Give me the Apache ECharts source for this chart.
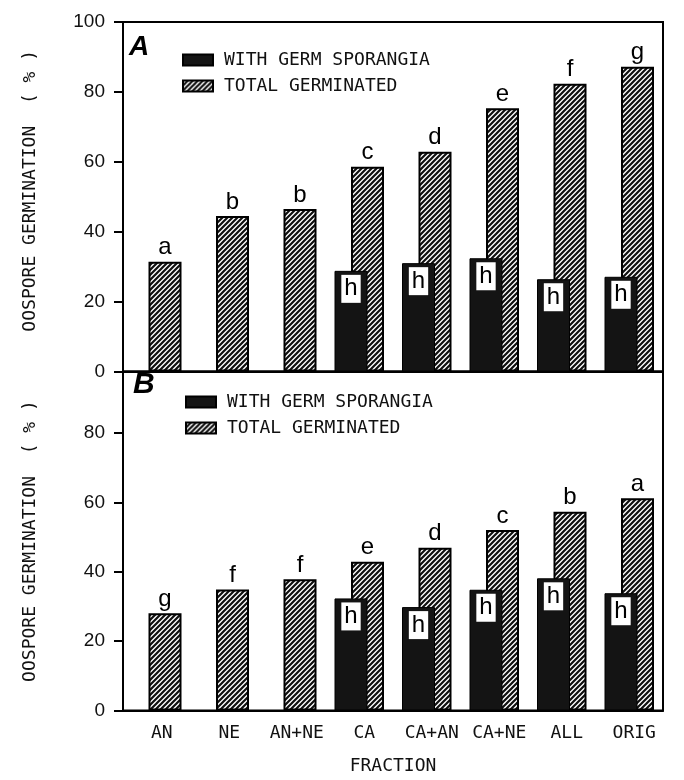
<!DOCTYPE html>
<html>
<head>
<meta charset="utf-8">
<script src="https://cdn.jsdelivr.net/npm/echarts@6/dist/echarts.min.js"></script>
<style>
  html, body { margin: 0; padding: 0; background: #fff; }
  #chart { width: 684px; height: 780px; }
</style>
</head>
<body>
<div id="chart"></div>
<script>
// Fractions tested and oospore germination (%) for the two experiments
const fractions = ['AN', 'NE', 'AN+NE', 'CA', 'CA+AN', 'CA+NE', 'ALL', 'ORIG'];

// Panel A
const sporangiaA = [null, null, null, 28.8, 31.0, 32.4, 26.4, 27.1];
const totalA     = [31.4, 44.5, 46.5, 58.6, 62.9, 75.3, 82.3, 87.2];
const lettersA   = ['a', 'b', 'b', 'c', 'd', 'e', 'f', 'g'];

// Panel B
const sporangiaB = [null, null, null, 32.3, 29.8, 34.8, 38.1, 33.8];
const totalB     = [28.0, 34.9, 37.8, 42.9, 46.9, 52.0, 57.3, 61.2];
const lettersB   = ['g', 'f', 'f', 'e', 'd', 'c', 'b', 'a'];

const sporangiaLetter = 'h';
const seriesNames = ['WITH GERM SPORANGIA', 'TOTAL GERMINATED'];
const axisTitleY = 'OOSPORE GERMINATION  ( % )';
const axisTitleX = 'FRACTION';

// Diagonal hatching tile for the "total germinated" bars
function hatchPattern() {
  const s = 5;
  const c = document.createElement('canvas');
  c.width = s; c.height = s;
  const g = c.getContext('2d');
  g.fillStyle = '#ffffff';
  g.fillRect(0, 0, s, s);
  g.strokeStyle = '#101010';
  g.lineWidth = 2.2;
  g.beginPath();
  g.moveTo(-1, s + 1); g.lineTo(s + 1, -1);
  g.moveTo(-1, 1); g.lineTo(1, -1);
  g.moveTo(s - 1, s + 1); g.lineTo(s + 1, s - 1);
  g.stroke();
  return { image: c, repeat: 'repeat' };
}
const hatch = hatchPattern();

const MONO = 'DejaVu Sans Mono';
const SANS = 'Liberation Sans';
const INK = '#111';

function yAxisFor(gridIndex, max, nameShift) {
  return {
    type: 'value', gridIndex, min: 0, max, interval: 20,
    axisLine: { show: true, lineStyle: { color: '#000', width: 2 } },
    axisTick: { show: true, length: 9, lineStyle: { color: '#000', width: 2 } },
    axisLabel: {
      margin: 18, fontSize: 19, fontFamily: SANS, color: INK,
      formatter: v => (v % 20 === 0 ? String(v) : '')
    },
    splitLine: { show: false },
    name: axisTitleY, nameLocation: 'middle', nameGap: 84,
    nameTextStyle: { fontFamily: MONO, fontSize: 18, color: INK, padding: [0, 0, 0, nameShift] }
  };
}

function xAxisFor(gridIndex, withLabels) {
  return {
    type: 'category', gridIndex, data: fractions,
    axisLine: { show: true, lineStyle: { color: '#000', width: 2 } },
    axisTick: { show: false },
    axisLabel: {
      show: withLabels, interval: 0, margin: 14, fontSize: 18, fontFamily: MONO, color: INK,
      padding: [0, 0, 0, 10]
    },
    name: withLabels ? axisTitleX : '', nameLocation: 'middle', nameGap: 47,
    nameTextStyle: { fontFamily: MONO, fontSize: 18, color: INK }
  };
}

function seriesFor(idx, sporangia, total, letters) {
  return [
    {
      name: seriesNames[0], type: 'bar', xAxisIndex: idx, yAxisIndex: idx,
      data: sporangia, barWidth: 33, barGap: '-50%', z: 3,
      itemStyle: { color: '#141414', borderColor: '#000', borderWidth: 1 },
      label: {
        show: true, position: 'insideTop', distance: 4,
        formatter: sporangiaLetter,
        backgroundColor: '#fff', padding: [2, 3],
        fontFamily: SANS, fontSize: 24, lineHeight: 24, color: '#000'
      }
    },
    {
      name: seriesNames[1], type: 'bar', xAxisIndex: idx, yAxisIndex: idx,
      data: total, barWidth: 33, barGap: '-50%', z: 2,
      itemStyle: { color: hatch, borderColor: '#000', borderWidth: 2 },
      label: {
        show: true, position: 'top', distance: 2,
        formatter: p => letters[p.dataIndex],
        fontFamily: SANS, fontSize: 24, color: '#000'
      }
    }
  ];
}

function legendFor(left, top) {
  return {
    left, top, orient: 'vertical', icon: 'rect', padding: 0,
    itemWidth: 30, itemHeight: 11, itemGap: 8,
    selectedMode: false, data: seriesNames,
    textStyle: { fontFamily: MONO, fontSize: 18, color: INK, padding: [0, 0, 0, 6] }
  };
}

const chart = echarts.init(document.getElementById('chart'), null, { renderer: 'canvas' });
chart.setOption({
  backgroundColor: '#fff',
  animation: false,
  grid: [
    { left: 123, right: 21, top: 22, height: 349.5, show: true, borderColor: '#000', borderWidth: 2, containLabel: false },
    { left: 123, right: 21, top: 371.5, height: 339, show: true, borderColor: '#000', borderWidth: 2, containLabel: false }
  ],
  xAxis: [xAxisFor(0, false), xAxisFor(1, true)],
  yAxis: [yAxisFor(0, 100, 12), yAxisFor(1, 97.7, 0)],
  legend: [legendFor(182, 51), legendFor(185, 393)],
  series: [
    ...seriesFor(0, sporangiaA, totalA, lettersA),
    ...seriesFor(1, sporangiaB, totalB, lettersB)
  ],
  graphic: [
    { type: 'text', left: 129, top: 33, style: { text: 'A', font: 'italic bold 28px "Liberation Sans"', fill: '#000' } },
    { type: 'text', left: 133, top: 370, style: { text: 'B', font: 'italic bold 30px "Liberation Sans"', fill: '#000' } }
  ]
});
</script>
</body>
</html>
